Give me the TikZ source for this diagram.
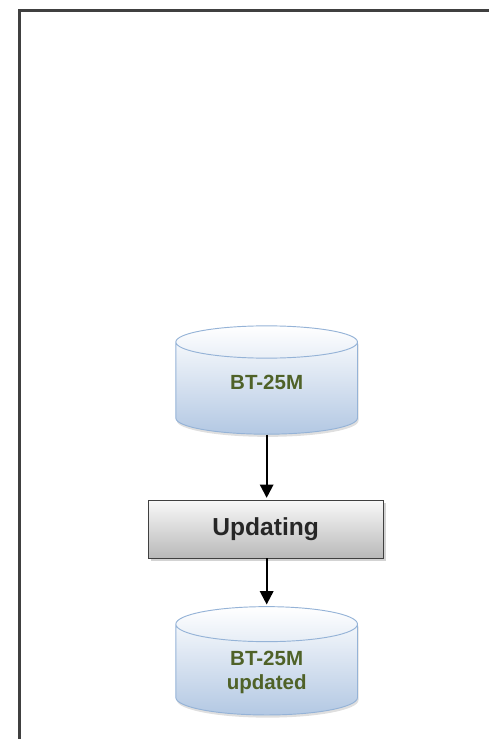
\documentclass[tikz,border=0pt]{standalone}
\usepackage{fontspec}
\setmainfont{Liberation Sans}
\usepackage{xcolor}
\usepackage{tikz}
\usetikzlibrary{positioning,shapes.geometric,arrows.meta,shadows}

\definecolor{dbedge}{HTML}{95B3D7}
\definecolor{dbfill}{HTML}{B3C8E3}
\definecolor{dbtext}{HTML}{4F6228}
\definecolor{procedge}{HTML}{404040}

\begin{document}
\begin{tikzpicture}[
    >={Triangle[width=0.4cm,length=0.4cm]},
    db/.style={
        cylinder,
        shape border rotate=90,
        aspect=0.4,
        draw=dbedge,
        thick,
        top color=white,
        bottom color=dbfill,
        minimum width=5.45cm,
        minimum height=3.25cm,
        align=center,
        text=dbtext,
        font=\fontsize{17.5pt}{21pt}\selectfont\bfseries,
        drop shadow={opacity=0.25,shadow xshift=0.03cm,shadow yshift=-0.08cm}
    },
    proc/.style={
        draw=procedge,
        thick,
        top color=gray!5,
        bottom color=gray!55,
        minimum width=7.05cm,
        minimum height=1.74cm,
        align=center,
        text=black!85,
        font=\fontsize{21pt}{24pt}\selectfont\bfseries,
        drop shadow={opacity=0.35,shadow xshift=0.09cm,shadow yshift=-0.09cm}
    },
    arr/.style={->, line width=1.8pt, black, shorten >=0.05cm}
]

\useasboundingbox (0,0) rectangle (14.67,-22.17);

% frame (cut off on the right and bottom)
\coordinate (fbl) at (0.585,-22.17);
\coordinate (ftl) at (0.585,-0.315);
\coordinate (ftr) at (14.67,-0.315);
\draw[line width=1.8pt, black!75] (fbl) -- (ftl) -- (ftr);

% flow
\node[db, text depth=0.5cm] (src) at (8.0,-11.72) {BT-25M};

\node[proc] (upd) at (7.97,-15.87) {Updating};

\node[db] (dst) at (8.0,-20.17) {BT-25M\\updated};

\draw[arr] (src.south) -- (src.south |- upd.north);
\draw[arr] (upd.south -| dst.top) -- (dst.top);

\end{tikzpicture}
\end{document}
